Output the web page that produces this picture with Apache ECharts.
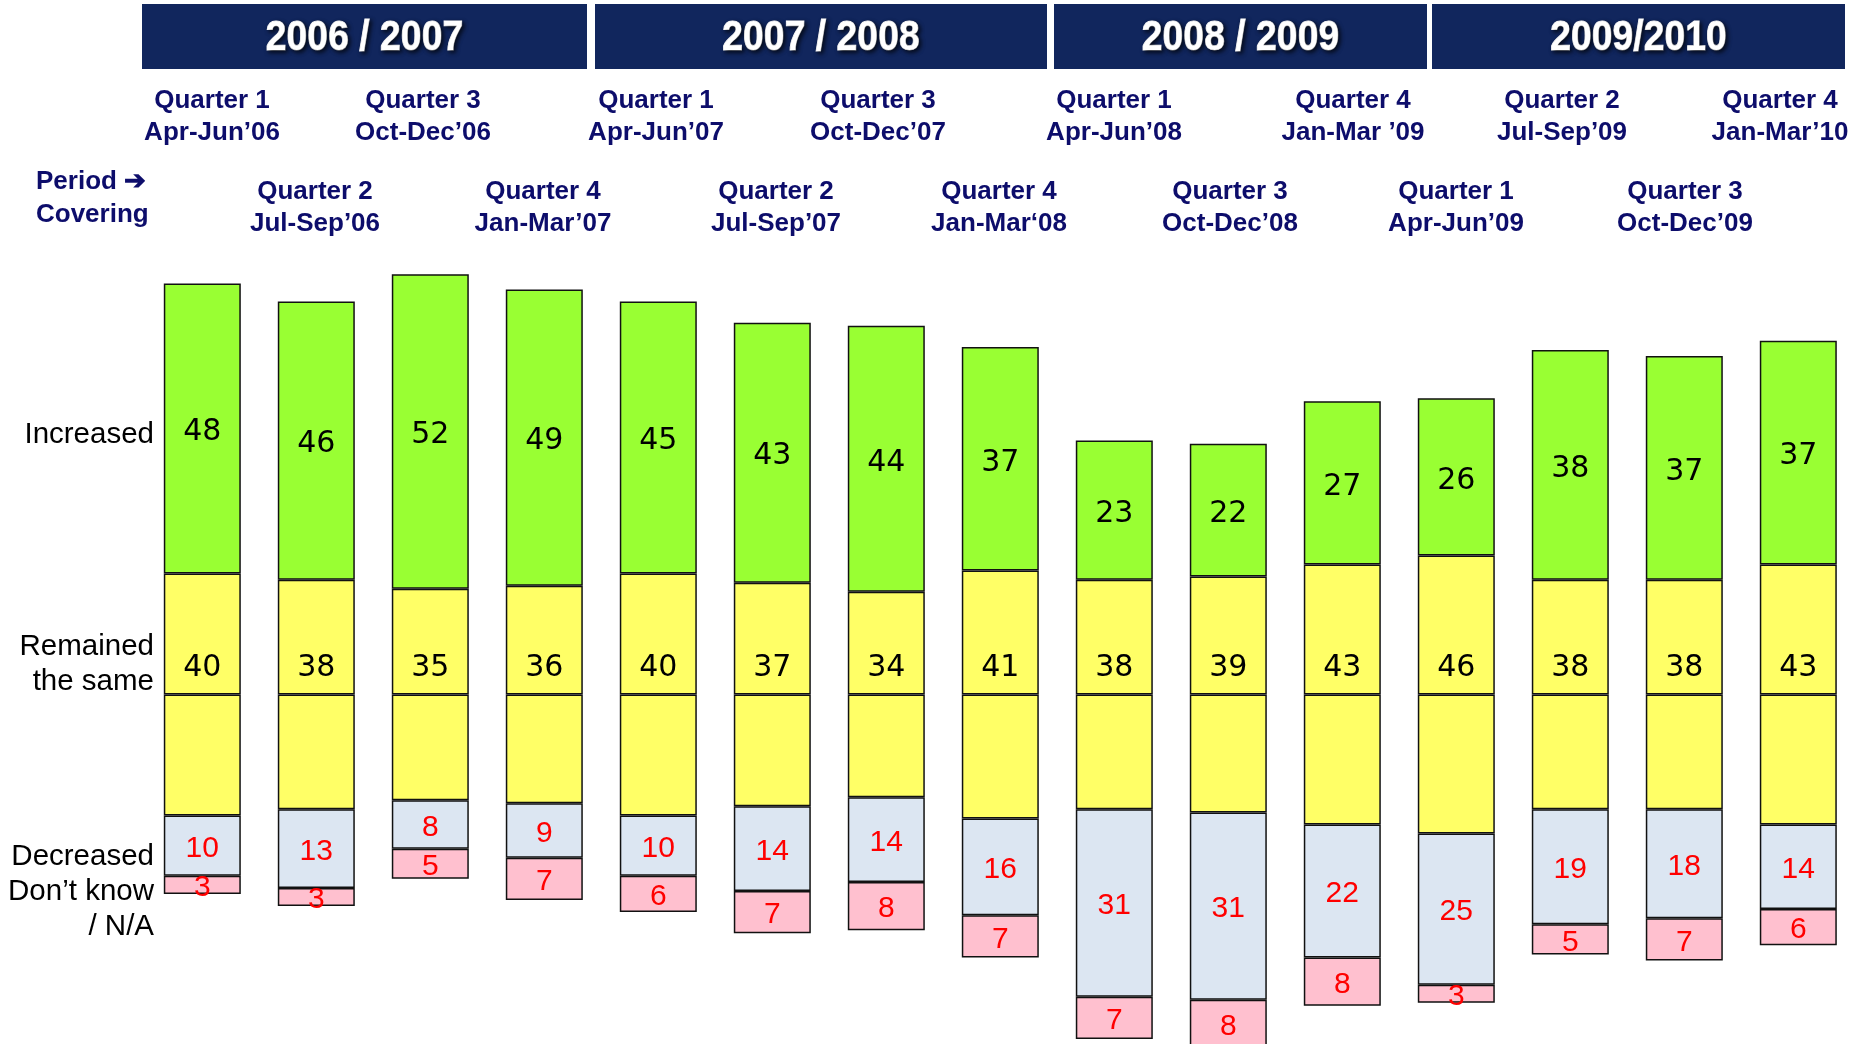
<!DOCTYPE html>
<html>
<head>
<meta charset="utf-8">
<script src="https://cdn.jsdelivr.net/npm/echarts@6/dist/echarts.min.js"></script>
<style>
  html, body { margin: 0; padding: 0; background: #ffffff; }
  #chart { width: 1860px; height: 1044px; }
</style>
</head>
<body>
<div id="chart"></div>
<script>
// Survey periods (one bar each)
const periods = [
  'Quarter 1\nApr-Jun’06', 'Quarter 2\nJul-Sep’06', 'Quarter 3\nOct-Dec’06', 'Quarter 4\nJan-Mar’07',
  'Quarter 1\nApr-Jun’07', 'Quarter 2\nJul-Sep’07', 'Quarter 3\nOct-Dec’07', 'Quarter 4\nJan-Mar‘08',
  'Quarter 1\nApr-Jun’08', 'Quarter 3\nOct-Dec’08', 'Quarter 4\nJan-Mar ’09', 'Quarter 1\nApr-Jun’09',
  'Quarter 2\nJul-Sep’09', 'Quarter 3\nOct-Dec’09', 'Quarter 4\nJan-Mar’10'
];

// Responses, % of respondents
const increased = [48, 46, 52, 49, 45, 43, 44, 37, 23, 22, 27, 26, 38, 37, 37];
const remained  = [40, 38, 35, 36, 40, 37, 34, 41, 38, 39, 43, 46, 38, 38, 43];
const decreased = [10, 13,  8,  9, 10, 14, 14, 16, 31, 31, 22, 25, 19, 18, 14];
const dontKnow  = [ 3,  3,  5,  7,  6,  7,  8,  7,  7,  8,  8,  3,  5,  7,  6];

// Financial-year banners
const seasons = ['2006 / 2007', '2007 / 2008', '2008 / 2009', '2009/2010'];

// Row captions on the left
const rowCaptions = ['Increased', 'Remained\nthe same', 'Decreased\nDon’t know\n/ N/A'];

// ---- layout ----
const NAVY = '#11265d';
const CAPTION_BLUE = '#0d0d6b';
const seasonBoxes = [[142, 587], [595, 1047], [1054, 1427], [1432, 1845]];
const captionX = [212, 315, 423, 543, 656, 776, 878, 999, 1114, 1230, 1353, 1456, 1562, 1685, 1780];
const captionRowY = [117, 208];
const rowCaptionY = [435, 664, 892];

const chart = echarts.init(document.getElementById('chart'), null, { renderer: 'canvas' });

const graphics = [];
seasonBoxes.forEach(([x0, x1], i) => {
  graphics.push({
    type: 'rect', silent: true,
    shape: { x: x0, y: 4, width: x1 - x0, height: 65 },
    style: { fill: NAVY }
  });
  graphics.push({
    type: 'text', silent: true,
    x: (x0 + x1) / 2, y: 38, scaleX: 0.89,
    style: {
      text: seasons[i], fill: '#ffffff', stroke: '#ffffff', lineWidth: 1,
      fontFamily: 'Liberation Sans, Arial, sans-serif', fontWeight: 'bold', fontSize: 42,
      align: 'center', verticalAlign: 'middle',
      textShadowColor: 'rgba(0,0,0,0.75)', textShadowBlur: 4,
      textShadowOffsetX: 2, textShadowOffsetY: 2
    }
  });
});

periods.forEach((txt, i) => {
  graphics.push({
    type: 'text', silent: true,
    x: captionX[i], y: captionRowY[i % 2],
    style: {
      text: txt, fill: CAPTION_BLUE,
      fontFamily: 'Liberation Sans, Arial, sans-serif', fontWeight: 'bold', fontSize: 26,
      lineHeight: 32, align: 'center', verticalAlign: 'middle'
    }
  });
});

graphics.push({
  type: 'text', silent: true,
  x: 36, y: 198,
  style: {
    text: 'Period ➔\nCovering', fill: CAPTION_BLUE,
    fontFamily: 'Liberation Sans, Arial, sans-serif', fontWeight: 'bold', fontSize: 26,
    lineHeight: 33, align: 'left', verticalAlign: 'middle'
  }
});

rowCaptions.forEach((txt, i) => {
  graphics.push({
    type: 'text', silent: true,
    x: 154, y: rowCaptionY[i],
    style: {
      text: txt, fill: '#000000',
      fontFamily: 'Liberation Sans, Arial, sans-serif', fontSize: 29.5,
      lineHeight: 35, align: 'right', verticalAlign: 'middle'
    }
  });
});

const segBorder = { borderColor: '#111111', borderWidth: 1.5 };
const darkLabel = { fontFamily: 'DejaVu Sans, Verdana, sans-serif', fontSize: 30, color: '#000000', offset: [0, 4] };
const redLabel = { fontFamily: 'Liberation Sans, Arial, sans-serif', fontSize: 30, color: '#ff0000', offset: [0, 3] };

chart.setOption({
  animation: false,
  backgroundColor: '#ffffff',
  grid: {
    left: 145.3, width: 1710, top: 271.35, height: 785.85,
    containLabel: false, outerBoundsMode: 'none'
  },
  xAxis: {
    type: 'category', data: periods, show: false
  },
  yAxis: {
    type: 'value', min: -60, max: 70, show: false
  },
  graphic: graphics,
  series: [
    {
      name: 'Remained the same', type: 'bar', stack: 'total', barWidth: 77,
      data: remained.map(v => v / 2),
      itemStyle: Object.assign({ color: '#ffff66' }, segBorder),
      label: Object.assign({
        show: true, position: 'insideBottom', distance: 15,
        formatter: p => String(remained[p.dataIndex])
      }, darkLabel)
    },
    {
      name: 'Increased', type: 'bar', stack: 'total', barWidth: 77,
      data: increased,
      itemStyle: Object.assign({ color: '#99ff33' }, segBorder),
      label: Object.assign({ show: true, position: 'inside' }, darkLabel)
    },
    {
      name: 'Remained the same (lower half)', type: 'bar', stack: 'total', barWidth: 77,
      data: remained.map(v => -v / 2),
      itemStyle: Object.assign({ color: '#ffff66' }, segBorder),
      label: { show: false }
    },
    {
      name: 'Decreased', type: 'bar', stack: 'total', barWidth: 77,
      data: decreased.map(v => -v),
      itemStyle: Object.assign({ color: '#dce6f2' }, segBorder),
      label: Object.assign({
        show: true, position: 'inside',
        formatter: p => String(decreased[p.dataIndex])
      }, redLabel)
    },
    {
      name: 'Don’t know / N/A', type: 'bar', stack: 'total', barWidth: 77,
      data: dontKnow.map(v => -v),
      itemStyle: Object.assign({ color: '#ffc0cf' }, segBorder),
      label: Object.assign({
        show: true, position: 'inside',
        formatter: p => String(dontKnow[p.dataIndex])
      }, redLabel)
    }
  ]
});
</script>
</body>
</html>
